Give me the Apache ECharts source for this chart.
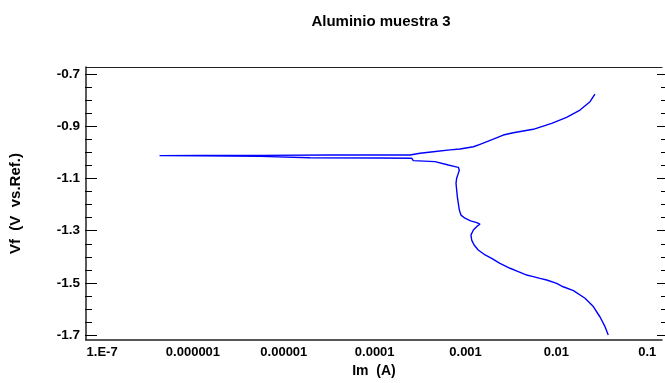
<!DOCTYPE html>
<html>
<head>
<meta charset="utf-8">
<script src="https://cdn.jsdelivr.net/npm/echarts@6/dist/echarts.min.js"></script>
<style>html,body{margin:0;padding:0;background:#fff;}#c{width:665px;height:383px;}</style>
</head>
<body>
<div id="c"></div>
<script>
const titleText = 'Aluminio muestra 3';
const xAxisName = 'Im  (A)';
const yAxisName = 'Vf  (V  vs.Ref.)';
// decade tick labels for exponents -7 .. -1
const xTickExponents = [-7, -6, -5, -4, -3, -2, -1];
const xTickLabels = ['1.E-7', '0.000001', '0.00001', '0.0001', '0.001', '0.01', '0.1'];
const xMin = 6.65e-8, xMax = 0.1452;
const yMin = -1.7, yMax = -0.7, yStep = 0.2;

// polarization curve, from cathodic end through Ecorr to anodic end
const currentA = [
  0.0348, 0.0321, 0.0282, 0.0239, 0.0194, 0.0145, 0.0112, 0.00951, 0.00740, 0.00625,
  0.00527, 0.00447, 0.00362, 0.00294, 0.00228, 0.00185, 0.00157, 0.00132, 0.00119, 0.00112,
  0.00110, 0.00117, 0.00129, 0.00138, 0.00127, 0.00109, 0.000946, 0.000855, 0.000820, 0.000800,
  0.000780, 0.000767, 0.000755, 0.000767, 0.000800, 0.000820, 0.000800, 0.000736, 0.000621, 0.000445,
  0.000258, 0.000247, 0.000111, 0.0000191, 0.00000544, 0.00000120, 0.000000434,
  0.00000120, 0.00000544, 0.0000317, 0.000237, 0.000305, 0.000426, 0.000649, 0.000834, 0.00117,
  0.00138, 0.00193, 0.00248, 0.00319, 0.00527, 0.00838, 0.0122, 0.0171, 0.0220, 0.0249
];
const potentialV = [
  -1.700, -1.668, -1.630, -1.591, -1.559, -1.530, -1.515, -1.502, -1.489, -1.483,
  -1.476, -1.470, -1.457, -1.444, -1.425, -1.406, -1.393, -1.374, -1.355, -1.336,
  -1.316, -1.297, -1.282, -1.275, -1.269, -1.262, -1.252, -1.240, -1.220, -1.195,
  -1.169, -1.144, -1.118, -1.099, -1.080, -1.067, -1.057, -1.054, -1.048, -1.035,
  -1.031, -1.022, -1.021, -1.020, -1.015, -1.013, -1.012,
  -1.0115, -1.011, -1.0095, -1.0095, -1.003, -0.997, -0.990, -0.9865, -0.978,
  -0.9685, -0.949, -0.933, -0.924, -0.911, -0.888, -0.865, -0.837, -0.805, -0.776
];

const FONT = '"Liberation Sans", Arial, Helvetica, sans-serif';
const curve = currentA.map((c, i) => [c, potentialV[i]]);

function xLabel(v) {
  const e = Math.log10(v);
  const r = Math.round(e);
  if (Math.abs(e - r) > 0.01) return '';
  const idx = xTickExponents.indexOf(r);
  return idx >= 0 ? xTickLabels[idx] : '';
}

const chart = echarts.init(document.getElementById('c'), null, {renderer: 'canvas'});
chart.setOption({
  animation: false,
  backgroundColor: '#fff',
  title: {
    text: titleText, left: 376, top: 9, textAlign: 'center',
    textStyle: {fontFamily: FONT, fontSize: 15, fontWeight: 'bold', color: '#000'}
  },
  grid: [
    {left: 85, right: 0, top: 67, bottom: 40, containLabel: false},
    {left: 85, right: 0, top: 74.3, bottom: 48, containLabel: false}
  ],
  xAxis: [
    {
      gridIndex: 0, type: 'log', logBase: 10, min: xMin, max: xMax, position: 'bottom',
      axisLine: {show: true, lineStyle: {color: '#222', width: 1.5}},
      axisTick: {show: false}, splitLine: {show: false}, minorTick: {show: false},
      axisLabel: {formatter: xLabel, margin: 6, fontFamily: FONT, fontSize: 13, fontWeight: 'bold', color: '#000'},
      name: xAxisName, nameLocation: 'middle', nameGap: 15,
      nameTextStyle: {fontFamily: FONT, fontSize: 14, fontWeight: 'bold', color: '#000'}
    },
    {
      gridIndex: 0, type: 'log', logBase: 10, min: xMin, max: xMax, position: 'top',
      axisLine: {show: true, lineStyle: {color: '#222', width: 1.2}},
      axisTick: {show: false}, axisLabel: {show: false}, splitLine: {show: false}
    },
    {
      gridIndex: 1, type: 'log', logBase: 10, min: xMin, max: xMax, show: false
    }
  ],
  yAxis: [
    {
      gridIndex: 0, type: 'value', min: 0, max: 1, position: 'left',
      axisLine: {show: true, lineStyle: {color: '#222', width: 1.5}},
      axisTick: {show: false}, axisLabel: {show: false}, splitLine: {show: false},
      name: yAxisName, nameLocation: 'middle', nameGap: 63, nameRotate: 90,
      nameTextStyle: {fontFamily: FONT, fontSize: 15, fontWeight: 'bold', color: '#000'}
    },
    {
      gridIndex: 1, type: 'value', min: yMin, max: yMax, interval: yStep, position: 'left',
      axisLine: {show: false},
      axisTick: {show: true, inside: true, length: 12, lineStyle: {color: '#000', width: 1}},
      minorTick: {show: true, splitNumber: 4, length: 7, lineStyle: {color: '#000', width: 1}},
      splitLine: {show: false}, minorSplitLine: {show: false},
      axisLabel: {formatter: v => v.toFixed(1), margin: 5, fontFamily: FONT, fontSize: 13.5, fontWeight: 'bold', color: '#000'}
    },
    {
      gridIndex: 1, type: 'value', min: yMin, max: yMax, interval: yStep, position: 'right',
      axisLine: {show: false},
      axisTick: {show: true, inside: true, length: 8, lineStyle: {color: '#000', width: 1}},
      minorTick: {show: true, splitNumber: 4, length: 4, lineStyle: {color: '#000', width: 1}},
      splitLine: {show: false}, axisLabel: {show: false}
    }
  ],
  series: [{
    type: 'line', xAxisIndex: 2, yAxisIndex: 1, data: curve,
    showSymbol: false, symbol: 'none', smooth: false,
    lineStyle: {color: '#0000ff', width: 1.4}
  }]
});
</script>
</body>
</html>
